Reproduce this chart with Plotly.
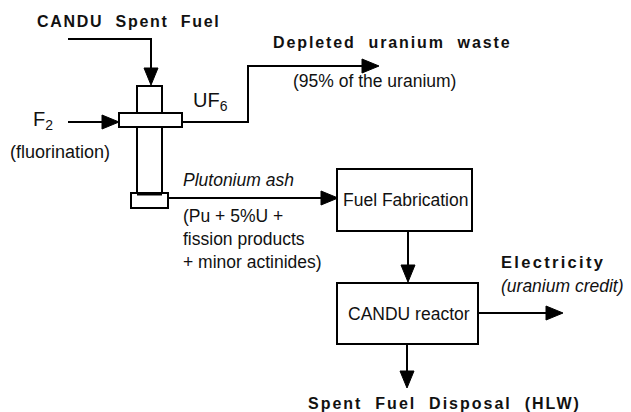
import plotly.graph_objects as go

W, H = 631, 412

# process boxes
box_labels = ['Fuel Fabrication', 'CANDU reactor']
box_x0 = [337, 337]
box_x1 = [472, 478]
box_y0 = [169, 283]
box_y1 = [231, 344]

# fluorination column pieces (drawn top to bottom)
col_x0 = [137, 119, 137, 131]
col_x1 = [162, 182, 162, 168]
col_y0 = [86, 113, 127, 193]
col_y1 = [113, 127, 193, 208]

# flow lines: polyline points, the last point is the arrow tip
flow_x = [
    [68, 151, 151],          # spent fuel in
    [68, 119],               # F2 in
    [182, 248, 248, 379],    # UF6 out
    [168, 338],              # plutonium ash
    [408, 408],              # to reactor
    [478, 563],              # electricity
    [407, 407],              # to disposal
]
flow_y = [
    [39, 39, 85],
    [122, 122],
    [122, 122, 66, 66],
    [198, 198],
    [231, 282],
    [313, 313],
    [344, 388],
]

# free text labels
label_text = [
    '<span style="letter-spacing:1.7px">CANDU&nbsp; Spent&nbsp; Fuel</span>',
    '<span style="letter-spacing:1.9px">Depleted&nbsp; uranium&nbsp; waste</span>',
    '(95% of the uranium)',
    'UF<sub>6</sub>',
    'F<sub>2</sub>',
    '(fluorination)',
    '<i>Plutonium ash</i>',
    '(Pu + 5%U +<br>fission products<br>+ minor actinides)',
    '<span style="letter-spacing:2.3px">Electricity</span>',
    '<i>(uranium credit)</i>',
    '<span style="letter-spacing:2px">Spent&nbsp; Fuel&nbsp; Disposal&nbsp; (HLW)</span>',
]
label_x = [35, 271, 291, 191, 31, 8, 181, 181, 499, 499, 306]
label_y = [21, 42, 81, 101, 120, 152, 180, 239, 262, 286, 403]
label_bold = [True, True, False, False, False, False, False, False, True, False, True]
label_size = [16, 16, 17.5, 20, 20, 18, 17.5, 17.5, 16.5, 17.5, 16]

FONT = 'Liberation Sans, Arial, sans-serif'
INK = 'black'

fig = go.Figure()
shapes = []


def rect(x0, y0, x1, y1):
    shapes.append(dict(type='rect', x0=x0, x1=x1, y0=y0, y1=y1,
                       line=dict(color=INK, width=2), fillcolor='white'))


def arrow_head(xs, ys, length=17, half=7):
    # triangle pointing along the last segment
    dx = xs[-1] - xs[-2]
    dy = ys[-1] - ys[-2]
    n = (dx ** 2 + dy ** 2) ** 0.5
    ux, uy = dx / n, dy / n
    tx, ty = xs[-1], ys[-1]
    bx, by = tx - ux * length, ty - uy * length
    px, py = -uy * half, ux * half
    path = f'M {tx},{ty} L {bx + px},{by + py} L {bx - px},{by - py} Z'
    shapes.append(dict(type='path', path=path, fillcolor=INK, line=dict(color=INK, width=1)))


for xs, ys in zip(flow_x, flow_y):
    pts = ' L '.join(f'{x},{y}' for x, y in zip(xs[:-1] + [xs[-1] - (xs[-1] - xs[-2]) * 0.05],
                                                ys[:-1] + [ys[-1] - (ys[-1] - ys[-2]) * 0.05]))
    shapes.append(dict(type='path', path='M ' + pts, line=dict(color=INK, width=2)))
    arrow_head(xs, ys)

for x0, y0, x1, y1 in zip(col_x0, col_y0, col_x1, col_y1):
    rect(x0, y0, x1, y1)
# heavy seam above the ash receiver
shapes.append(dict(type='line', x0=137, x1=162, y0=194, y1=194, line=dict(color=INK, width=3)))

for lab, x0, x1, y0, y1 in zip(box_labels, box_x0, box_x1, box_y0, box_y1):
    rect(x0, y0, x1, y1)

annotations = []
for lab, x0, x1, y0, y1 in zip(box_labels, box_x0, box_x1, box_y0, box_y1):
    annotations.append(dict(x=(x0 + x1) / 2 + 1, y=(y0 + y1) / 2, text=lab, showarrow=False,
                            font=dict(family=FONT, size=17.5, color='#111')))

for t, x, y, b, s in zip(label_text, label_x, label_y, label_bold, label_size):
    annotations.append(dict(x=x, y=y, text=f'<b>{t}</b>' if b else t, showarrow=False,
                            xanchor='left', yanchor='middle', align='left',
                            font=dict(family=FONT, size=s, color='#111')))

fig.update_layout(
    width=W, height=H,
    margin=dict(l=0, r=0, t=0, b=0),
    paper_bgcolor='white', plot_bgcolor='white',
    xaxis=dict(range=[0, W], visible=False, fixedrange=True),
    yaxis=dict(range=[H, 0], visible=False, fixedrange=True),
    shapes=shapes,
    annotations=annotations,
    showlegend=False,
)

# page body has a default 8px margin; drop it so the figure sits at the corner
fig.write_html('out.html', config={'displayModeBar': False},
               post_script="document.body.style.margin='0';")
